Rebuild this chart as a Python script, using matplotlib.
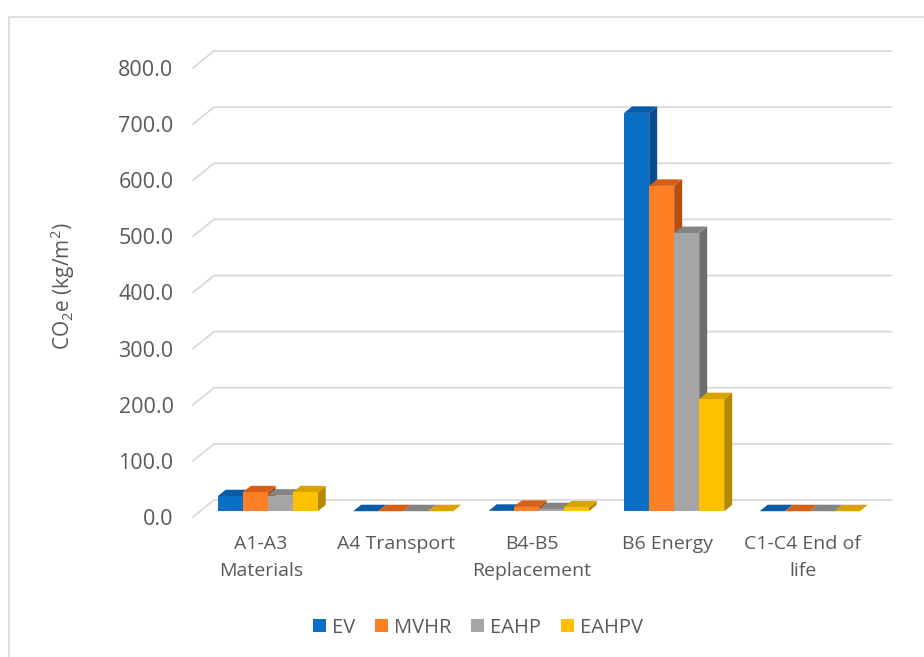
import matplotlib
matplotlib.use("Agg")
import matplotlib.pyplot as plt
import numpy as np
from matplotlib.patches import Polygon, Patch, Rectangle

# Life-cycle stages and embodied/operational carbon per scenario
stages = ["A1-A3\nMaterials", "A4 Transport", "B4-B5\nReplacement",
          "B6 Energy", "C1-C4 End of\nlife"]
scenarios = ["EV", "MVHR", "EAHP", "EAHPV"]
ev = [27.0, 0.3, 1.0, 710.0, 0.3]
mvhr = [34.0, 0.3, 8.0, 580.0, 0.3]
eahp = [28.0, 0.3, 4.0, 496.0, 0.3]
eahpv = [34.0, 0.3, 7.0, 200.0, 0.3]
yticks = [0, 100, 200, 300, 400, 500, 600, 700, 800]

front = ["#0A70C6", "#FF7F24", "#A5A5A5", "#FFC000"]
top_c = ["#0B5CA8", "#D65F16", "#848484", "#D9A200"]
side_c = ["#084C8E", "#B2500F", "#6E6E6E", "#B88700"]
text_c = "#595959"
grid_c = "#D9D9D9"

plt.rcParams["font.family"] = ["Open Sans", "DejaVu Sans"]
plt.rcParams["mathtext.fontset"] = "custom"
plt.rcParams["mathtext.rm"] = "Open Sans"

W, H, DPI = 924, 657, 100
fig = plt.figure(figsize=(W / DPI, H / DPI), dpi=DPI)

# plot area in pixels (front floor edge)
x0_px, x1_px = 193.0, 870.5
y0_px, y1_px = 517.0, 68.0
ax = fig.add_axes([x0_px / W, (H - y0_px) / H, (x1_px - x0_px) / W, (y0_px - y1_px) / H])
ax.set_xlim(-0.5, len(stages) - 0.5)
ax.set_ylim(0, 800)

px_x = (len(stages)) / (x1_px - x0_px)   # data units per pixel, x
px_y = 800 / (y0_px - y1_px)             # data units per pixel, y

# depth of the floor and of the bars
floor_dx, floor_dy = 21 * px_x, 17 * px_y
bar_f0 = 0.33
bar_dx, bar_dy = 8 * px_x, 6.5 * px_y

# back wall gridlines
for v in yticks:
    ax.plot([-0.5, -0.5 + floor_dx, len(stages) - 0.5 + floor_dx],
            [v, v + floor_dy, v + floor_dy],
            color=grid_c, lw=1.3, clip_on=False, zorder=1, solid_joinstyle="miter")

series = [ev, mvhr, eahp, eahpv]
bw = 25 * px_x
n = len(scenarios)
for i in range(len(stages)):
    for j, vals in enumerate(series):
        v = vals[i]
        xl = i - n * bw / 2 + j * bw + bar_f0 * floor_dx
        base = bar_f0 * floor_dy
        topv = base + v
        side = Polygon([(xl + bw, base), (xl + bw + bar_dx, base + bar_dy),
                        (xl + bw + bar_dx, topv + bar_dy), (xl + bw, topv)],
                       closed=True, fc=side_c[j], ec="none", clip_on=False, zorder=3)
        lid = Polygon([(xl, topv), (xl + bw, topv), (xl + bw + bar_dx, topv + bar_dy),
                       (xl + bar_dx, topv + bar_dy)],
                      closed=True, fc=top_c[j], ec="none", clip_on=False, zorder=3)
        ax.add_patch(side)
        ax.add_patch(lid)
        ax.bar(xl, v, width=bw, bottom=base, align="edge", color=front[j],
               edgecolor="none", clip_on=False, zorder=3)

for s in ax.spines.values():
    s.set_visible(False)
ax.set_yticks(yticks)
ax.set_yticklabels([f"{t:.1f}" for t in yticks])
ax.set_xticks(range(len(stages)))
ax.set_xticklabels(stages, linespacing=1.62)
ax.tick_params(axis="y", length=0, pad=14, labelsize=15.5, labelcolor=text_c)
ax.tick_params(axis="x", length=0, pad=13, labelsize=14, labelcolor=text_c)
ax.set_ylabel(r"CO$_\mathregular{2}$e (kg/m$^\mathregular{2}$)", fontsize=15,
              color=text_c)
ax.yaxis.set_label_coords(-116 / (x1_px - x0_px), 0.515)
ax.set_facecolor("none")

handles = [Patch(facecolor=front[j], edgecolor="none", label=scenarios[j]) for j in range(n)]
fig.legend(handles=handles, loc="center", bbox_to_anchor=(478 / W, (H - 628) / H),
           ncol=4, frameon=False, fontsize=14.5, handlelength=0.62, handleheight=0.62,
           handletextpad=0.3, columnspacing=1.0, labelcolor=text_c)

# chart frame
fig.patches.append(Rectangle((9 / W, -0.1), 1.2, (H - 17) / H + 0.1, transform=fig.transFigure,
                             fill=False, ec="#D9D9D9", lw=1.2))

fig.savefig("out.png", dpi=DPI)
